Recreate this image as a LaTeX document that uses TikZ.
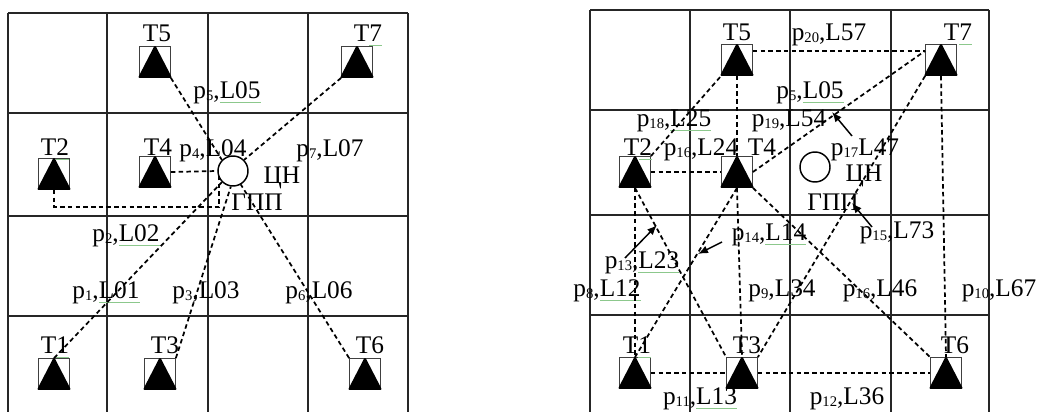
\documentclass[tikz,border=0pt]{standalone}
\usepackage{fontspec}
\setmainfont{Liberation Serif}
\usetikzlibrary{arrows.meta,calc}
\definecolor{squig}{RGB}{140,200,140}
\newcommand\sbs[1]{\raisebox{-1pt}{\fontsize{11}{11}\selectfont #1}}
\newcommand\gul[1]{\setbox0\hbox{#1}\leavevmode\rlap{\color{squig}\raisebox{-3pt}{\rule{\wd0}{0.7pt}}}\box0}
\tikzset{
  gridline/.style={line width=1.1pt, black!85},
  dl/.style={dash pattern=on 3.4pt off 2.4pt, line width=1.3pt},
  arr/.style={line width=1.1pt, -{Latex[length=7.5pt,width=6pt]}},
  mk/.style={draw=black!75, line width=0.8pt, minimum size=23pt, inner sep=0pt},
  tri/.style={fill=black, draw=black, line width=1.6pt, line join=round},
  cn/.style={circle, draw, line width=1.1pt, minimum size=22.5pt, inner sep=0pt},
  txt/.style={inner sep=0pt, text height=13pt, text depth=0pt}
}
\begin{document}
\begin{tikzpicture}[x=0.75pt, y=-0.75pt, font=\fontsize{19}{21}\selectfont]
\useasboundingbox (0,0) rectangle (1038,411);
\clip (0,0) rectangle (1038,411);
% ---------- left grid ----------
\foreach \x in {8,107,208,308,408} \draw[gridline] (\x,13) -- (\x,420);
\foreach \y in {13,113,216,316} \draw[gridline] (8,\y) -- (408,\y);
% ---------- right grid ----------
\foreach \x in {590,690,790,891,989} \draw[gridline] (\x,10) -- (\x,420);
\foreach \y in {10,110,215,315} \draw[gridline] (590,\y) -- (989,\y);

% ---------- left nodes ----------
\node[mk] (aT5) at (155,62) {};
\node[mk] (aT7) at (357,62) {};
\node[mk] (aT2) at (54,174) {};
\node[mk] (aT4) at (155,172) {};
\node[cn] (aC) at (233,171) {};
\node[mk] (aT1) at (54,374) {};
\node[mk] (aT3) at (160,374) {};
\node[mk] (aT6) at (365,374) {};
\node[txt] (aT5l) at (157,33) {T5};
\node[txt] (aT7l) at (368,33) {T\gul{7}};
\node[txt] (aT2l) at (55,147) {T\gul{2}};
\node[txt] (aT4l) at (158,147) {T4};
\node[txt] (aT1l) at (55,345) {T\gul{1}};
\node[txt] (aT3l) at (165,345) {T3};
\node[txt] (aT6l) at (370,345) {T6};
\node[txt] (aCl) at (282,175) {ЦН};
\node[txt] (aGl) at (257,202) {ГПП};
\node[txt] (ap5) at (227,90) {p\sbs{5},\gul{L05}};
\node[txt] (ap4) at (213,148) {p\sbs{4},L04};
\node[txt] (ap7) at (330,148) {p\sbs{7},L07};
\node[txt] (ap2) at (126,233) {p\sbs{2},\gul{L02}};
\node[txt] (ap1) at (106,290) {p\sbs{1},\gul{L01}};
\node[txt] (ap3) at (206,290) {p\sbs{3},L03};
\node[txt] (ap6) at (319,290) {p\sbs{6},L06};
% left connectors
\draw[dl] (aT5.south east) -- (aC.north west);
\draw[dl] (aT7.south west) -- (aC.north east);
\draw[dl] (aT4.east) -- (aC.west);
\coordinate (ac2) at (219,207);
\draw[dl] (aT2.south) |- (ac2) -- (ac2 |- aC.200);
\draw[dl] (aT1.north) -- (aC.225);
\draw[dl] (aT3.north east) -- (aC.262);
\draw[dl] (aT6.north west) -- (aC.300);

% ---------- right nodes ----------
\node[mk] (bT5) at (737,60) {};
\node[mk] (bT7) at (941,60) {};
\node[mk] (bT2) at (635,172) {};
\node[mk] (bT4) at (737,172) {};
\node[cn] (bC) at (815,167) {};
\node[mk] (bT1) at (635,373) {};
\node[mk] (bT3) at (742,373) {};
\node[mk] (bT6) at (946,373) {};
\node[txt] (bT5l) at (737,32) {T5};
\node[txt] (bT7l) at (958,32) {T\gul{7}};
\node[txt] (bT2l) at (638,147) {T\gul{2}};
\node[txt] (bT4l) at (762,147) {T4};
\node[txt] (bT1l) at (637,345) {T\gul{1}};
\node[txt] (bT3l) at (747,345) {T3};
\node[txt] (bT6l) at (955,345) {T6};
\node[txt] (bCl) at (864,173) {ЦН};
\node[txt] (bGl) at (833,202) {ГПП};
\node[txt] (bp20) at (829,32) {p\sbs{20},L57};
\node[txt] (bp5) at (810,90) {p\sbs{5},\gul{L05}};
\node[txt] (bp18) at (674,118) {p\sbs{18},\gul{L25}};
\node[txt] (bp19) at (789,118) {p\sbs{19},L54};
\node[txt] (bp16a) at (701,147) {p\sbs{16},L24};
\node[txt] (bp17) at (865,147) {p\sbs{17}L47};
\node[txt] (bp14) at (769,232) {p\sbs{14},\gul{L14}};
\node[txt] (bp15) at (897,230) {p\sbs{15},L73};
\node[txt] (bp13) at (642,260) {p\sbs{13},\gul{L23}};
\node[txt] (bp8) at (607,288) {p\sbs{8},\gul{L12}};
\node[txt] (bp9) at (782,288) {p\sbs{9},L34};
\node[txt] (bp16b) at (880,288) {p\sbs{16},L46};
\node[txt] (bp10) at (999,288) {p\sbs{10},L67};
\node[txt] (bp11) at (700,396) {p\sbs{11},\gul{L13}};
\node[txt] (bp12) at (847,396) {p\sbs{12},L36};
% right connectors
\draw[dl] (bT5.30) -- (bT7.150);
\draw[dl] (bT2.east) -- (bT4.west);
\draw[dl] (bT1.east) -- (bT3.west);
\draw[dl] (bT3.east) -- (bT6.west);
\draw[dl] (bT5.south) -- (bT4.north);
\draw[dl] (bT4.south) -- (bT3.north);
\draw[dl] (bT2.south) -- (bT1.north);
\draw[dl] (bT7.south) -- (bT6.north);
\draw[dl] (bT2.north east) -- (bT5.south west);
\draw[dl] (bT4.east) -- (bT7.150);
\draw[dl] (bT7.south west) -- (bT3.north east);
\draw[dl] (bT4.south east) -- (bT6.north west);
\draw[dl] (bT4.south) -- (bT1.north);
\draw[dl] (bT2.south) -- (bT3.north west);
% arrows
\coordinate (r17a) at (852,136); \coordinate (r17b) at (832,112);
\coordinate (r15a) at (872,227); \coordinate (r15b) at (852,203);
\coordinate (r13a) at (625,258); \coordinate (r13b) at (657,225);
\coordinate (r14a) at (722,242); \coordinate (r14b) at (698,254);
\draw[arr] (r17a) -- (r17b);
\draw[arr] (r15a) -- (r15b);
\draw[arr] (r13a) -- (r13b);
\draw[arr] (r14a) -- (r14b);
% triangles inside the markers
\foreach \n in {aT1,aT2,aT3,aT4,aT5,aT6,aT7,bT1,bT2,bT3,bT4,bT5,bT6,bT7}
  \path[tri] ($(\n.north)+(0,1)$) -- ($(\n.south east)+(-0.5,-1)$) -- ($(\n.south west)+(0.5,-1)$) -- cycle;
\end{tikzpicture}
\end{document}
